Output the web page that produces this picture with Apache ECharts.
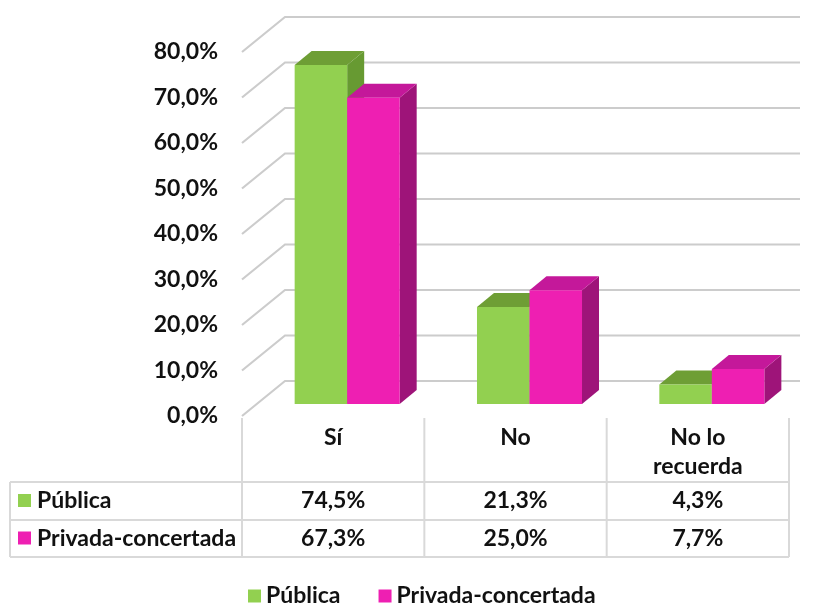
<!DOCTYPE html>
<html><head><meta charset="utf-8">
<script src="https://cdn.jsdelivr.net/npm/echarts@6/dist/echarts.min.js"></script>
<style>html,body{margin:0;padding:0;background:#fff}#c{width:823px;height:605px}</style>
</head><body><div id="c"></div>
<script>
const categories = ['Sí', 'No', 'No lo\nrecuerda'];
const seriesNames = ['Pública', 'Privada-concertada'];
const publica = [74.5, 21.3, 4.3];
const privada = [67.3, 25.0, 7.7];
const yTicks = [0, 10, 20, 30, 40, 50, 60, 70, 80];

const FONT = 'Lato, "Open Sans", sans-serif';
const FS = 23;
const colors = [
  {front: '#92D050', top: '#6E9E35', side: '#679A32'},
  {front: '#EE1FB2', top: '#C4189A', side: '#9E1479'}
];
const fmt = v => v.toFixed(1).replace('.', ',') + '%';

const WALL_DX = 43, WALL_DY = 35;
const OFF_DX = 14, OFF_DY = 12;
const BAR_DX = 17, BAR_DY = 14;
const BAR_FRAC = 0.288;
const TABLE_TOP = 418, ROW1 = 482, ROW2 = 520, ROW3 = 557, TABLE_LEFT = 10;
const LINE = '#d9d9d9';

function wallRender(params, api) {
  const v = api.value(1);
  const p = api.coord([0, v]);
  const cs = params.coordSys;
  const x0 = cs.x;
  return {
    type: 'polyline',
    shape: {points: [[x0, p[1]], [x0 + WALL_DX, p[1] - WALL_DY], [cs.x + cs.width + 11, p[1] - WALL_DY]]},
    style: {stroke: '#cccccc', lineWidth: 2.2, fill: null}
  };
}

function barRender(s) {
  return function (params, api) {
    const cat = api.value(0), val = api.value(1);
    const base = api.coord([cat, 0]);
    const top = api.coord([cat, val]);
    const band = api.size([1, 0])[0];
    const w = band * BAR_FRAC;
    const x1 = base[0] + OFF_DX - w + s * w;
    const x2 = x1 + w;
    const yb = base[1] - OFF_DY;
    const yt = top[1] - OFF_DY;
    const c = colors[s];
    return {
      type: 'group',
      children: [
        {type: 'polygon', shape: {points: [[x2, yb], [x2 + BAR_DX, yb - BAR_DY], [x2 + BAR_DX, yt - BAR_DY], [x2, yt]]}, style: {fill: c.side}},
        {type: 'polygon', shape: {points: [[x1, yt], [x1 + BAR_DX, yt - BAR_DY], [x2 + BAR_DX, yt - BAR_DY], [x2, yt]]}, style: {fill: c.top}},
        {type: 'rect', shape: {x: x1, y: yt, width: w, height: yb - yt}, style: {fill: c.front}}
      ]
    };
  };
}

function tableRender(params, api) {
  const cat = api.value(0);
  const c = api.coord([cat, 0]);
  const band = api.size([1, 0])[0];
  const left = c[0] - band / 2;
  const children = [
    {type: 'line', shape: {x1: left, y1: TABLE_TOP, x2: left, y2: ROW3}, style: {stroke: LINE, lineWidth: 2}},
    {type: 'text', style: {text: fmt(publica[cat]), x: c[0], y: (ROW1 + ROW2) / 2, align: 'center', verticalAlign: 'middle', font: 'bold ' + FS + 'px ' + FONT, fill: '#111'}},
    {type: 'text', style: {text: fmt(privada[cat]), x: c[0], y: (ROW2 + ROW3) / 2, align: 'center', verticalAlign: 'middle', font: 'bold ' + FS + 'px ' + FONT, fill: '#111'}}
  ];
  if (cat === categories.length - 1) {
    children.push({type: 'line', shape: {x1: left + band, y1: TABLE_TOP, x2: left + band, y2: ROW3}, style: {stroke: LINE, lineWidth: 2}});
  }
  return {type: 'group', children};
}

const chart = echarts.init(document.getElementById('c'));
const graphics = [];
[ROW1, ROW2, ROW3].forEach(y => graphics.push({type: 'line', shape: {x1: TABLE_LEFT, y1: y, x2: 789, y2: y}, style: {stroke: LINE, lineWidth: 2}}));
graphics.push({type: 'line', shape: {x1: TABLE_LEFT, y1: ROW1, x2: TABLE_LEFT, y2: ROW3}, style: {stroke: LINE, lineWidth: 2}});
seriesNames.forEach((n, i) => {
  const yc = i === 0 ? (ROW1 + ROW2) / 2 : (ROW2 + ROW3) / 2;
  graphics.push({type: 'rect', shape: {x: 18, y: yc - 7, width: 13, height: 13}, style: {fill: colors[i].front}});
  graphics.push({type: 'text', style: {text: n, x: 37, y: yc, verticalAlign: 'middle', font: 'bold ' + FS + 'px ' + FONT, fill: '#111'}});
});

chart.setOption({
  animation: false,
  grid: {left: 242, right: 34, top: 52, bottom: 189},
  xAxis: {
    type: 'category', data: categories,
    axisLine: {show: false}, axisTick: {show: false},
    axisLabel: {margin: 7, verticalAlign: 'top', lineHeight: 29, fontFamily: FONT, fontWeight: 'bold', fontSize: FS, color: '#111'}
  },
  yAxis: {
    type: 'value', min: 0, max: 80, interval: 10,
    axisLine: {show: false}, axisTick: {show: false}, splitLine: {show: false},
    axisLabel: {margin: 24, formatter: v => fmt(v), fontFamily: FONT, fontWeight: 'bold', fontSize: FS, color: '#111'}
  },
  legend: {
    data: seriesNames, left: 248, top: 582, padding: 0, icon: 'rect', itemWidth: 13, itemHeight: 13, itemGap: 38,
    textStyle: {fontFamily: FONT, fontWeight: 'bold', fontSize: FS, color: '#111', lineHeight: 28}
  },
  graphic: graphics,
  series: [
    {type: 'custom', name: 'wall', renderItem: wallRender, data: yTicks.map(v => [0, v]), silent: true, z: 1},
    {type: 'custom', name: seriesNames[0], renderItem: barRender(0), itemStyle: {color: colors[0].front}, data: publica.map((v, i) => [i, v]), z: 2},
    {type: 'custom', name: seriesNames[1], renderItem: barRender(1), itemStyle: {color: colors[1].front}, data: privada.map((v, i) => [i, v]), z: 2},
    {type: 'custom', name: 'table', renderItem: tableRender, data: categories.map((c, i) => [i, 0]), silent: true, z: 1}
  ]
});
</script></body></html>
